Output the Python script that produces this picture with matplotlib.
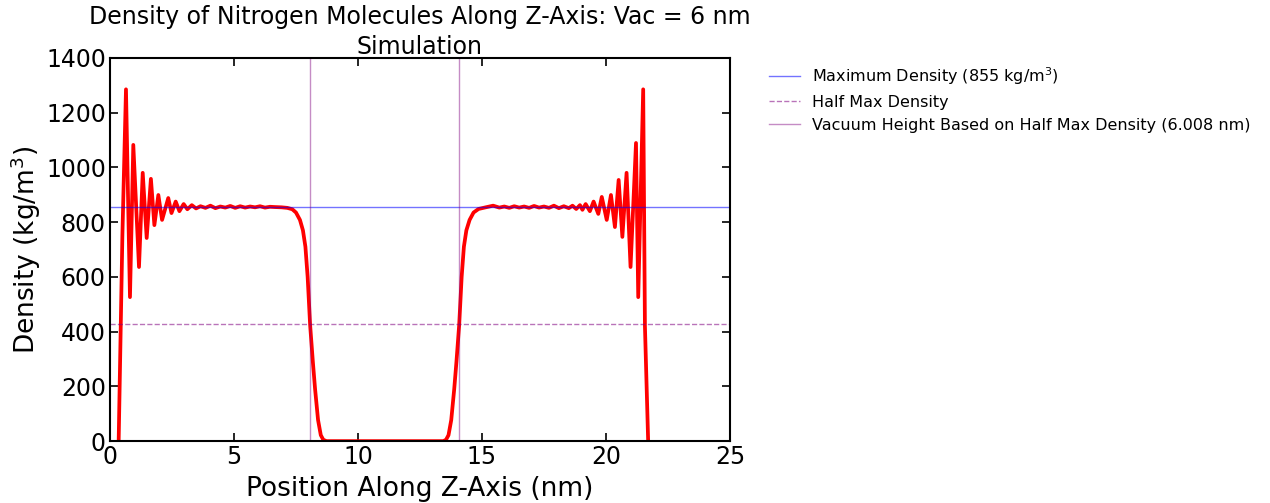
import numpy as np
import matplotlib.pyplot as plt

# density profile along z (nm, kg/m^3)
z_nm = [0.35, 0.5, 0.645, 0.806, 0.94, 1.17, 1.32, 1.48, 1.65, 1.79, 1.95, 2.1,
        2.35, 2.48, 2.65, 2.8, 2.97, 3.12, 3.3, 3.47, 3.65, 3.85, 4.05, 4.25,
        4.45, 4.65, 4.85, 5.05, 5.25, 5.45, 5.65, 5.85, 6.05, 6.25, 6.45, 6.65,
        6.92, 7.15, 7.35, 7.5, 7.66, 7.78, 7.88, 7.97, 8.07, 8.18, 8.27, 8.39,
        8.5, 8.6, 8.73, 9.5, 10.5, 11.5, 12.5, 13.44, 13.55, 13.65, 13.76, 13.88,
        13.97, 14.08, 14.18, 14.27, 14.37, 14.5, 14.66, 14.86, 15.15,
        15.45, 15.7, 15.9, 16.1, 16.3, 16.5, 16.7, 16.9, 17.1, 17.3, 17.5, 17.7,
        17.9, 18.1, 18.3, 18.5, 18.65, 18.8, 18.95, 19.05, 19.18, 19.35, 19.5,
        19.69, 19.83, 20.03, 20.2, 20.36, 20.51, 20.66, 20.83, 20.99, 21.21, 21.3,
        21.5, 21.57, 21.7]
density = [0, 750, 1285, 526, 1082, 636, 980, 742, 958, 789, 899, 808,
           888, 833, 875, 840, 866, 847, 862, 850, 858, 852, 860, 851,
           857, 853, 859, 852, 858, 853, 857, 854, 858, 853, 856, 855,
           854, 852, 847, 835, 808, 770, 710, 600, 424, 290, 190, 77,
           22, 5, 0, 0, 0, 0, 0, 0, 5, 22, 77, 190,
           290, 424, 600, 710, 770, 808, 835, 848, 854,
           860, 853, 857, 852, 858, 853, 857, 852, 859, 853, 857, 852,
           860, 851, 858, 851, 860, 848, 862, 845, 866, 840, 875,
           830, 892, 808, 899, 782, 954, 746, 980, 636, 1089, 526,
           1285, 420, 0]

max_density = 855
half_density = max_density / 2
vac_edges = [8.07, 14.078]

fig = plt.figure(figsize=(12.7, 5.03), dpi=100)
ax = fig.add_axes([0.0866, 0.123, 0.4882, 0.762])

ax.plot(z_nm, density, color='red', lw=2.7)
ax.axhline(max_density, color='blue', alpha=0.55, lw=1,
           label='Maximum Density (855 kg/m$^3$)')
ax.axhline(half_density, color='purple', alpha=0.55, lw=1, ls='--',
           label='Half Max Density')
ax.axvline(vac_edges[0], color='purple', alpha=0.45, lw=1,
           label='Vacuum Height Based on Half Max Density (6.008 nm)')
ax.axvline(vac_edges[1], color='purple', alpha=0.45, lw=1)

ax.set_xlim(0, 25)
ax.set_ylim(0, 1400)
ax.set_xticks(np.arange(0, 26, 5))
ax.set_yticks(np.arange(0, 1401, 200))
ax.tick_params(direction='in', top=True, right=True, labelsize=17, length=6, width=1.2, pad=3)
for s in ax.spines.values():
    s.set_linewidth(1.5)

ax.set_xlabel('Position Along Z-Axis (nm)', fontsize=19, labelpad=5)
ax.set_ylabel('Density (kg/m$^3$)', fontsize=19, labelpad=2)

# two-line title: first line on the figure, second as the axes title
fig.text(0.0866 + 0.4882 / 2, 0.966, 'Density of Nitrogen Molecules Along Z-Axis: Vac = 6 nm',
         fontsize=17, ha='center', va='center')
ax.set_title('Simulation', fontsize=17, pad=3)

ax.legend(loc='upper left', bbox_to_anchor=(1.04, 1.018), frameon=False,
          fontsize=11.5, handlelength=1.9, labelspacing=0.5)

fig.savefig('out.png', dpi=100)
